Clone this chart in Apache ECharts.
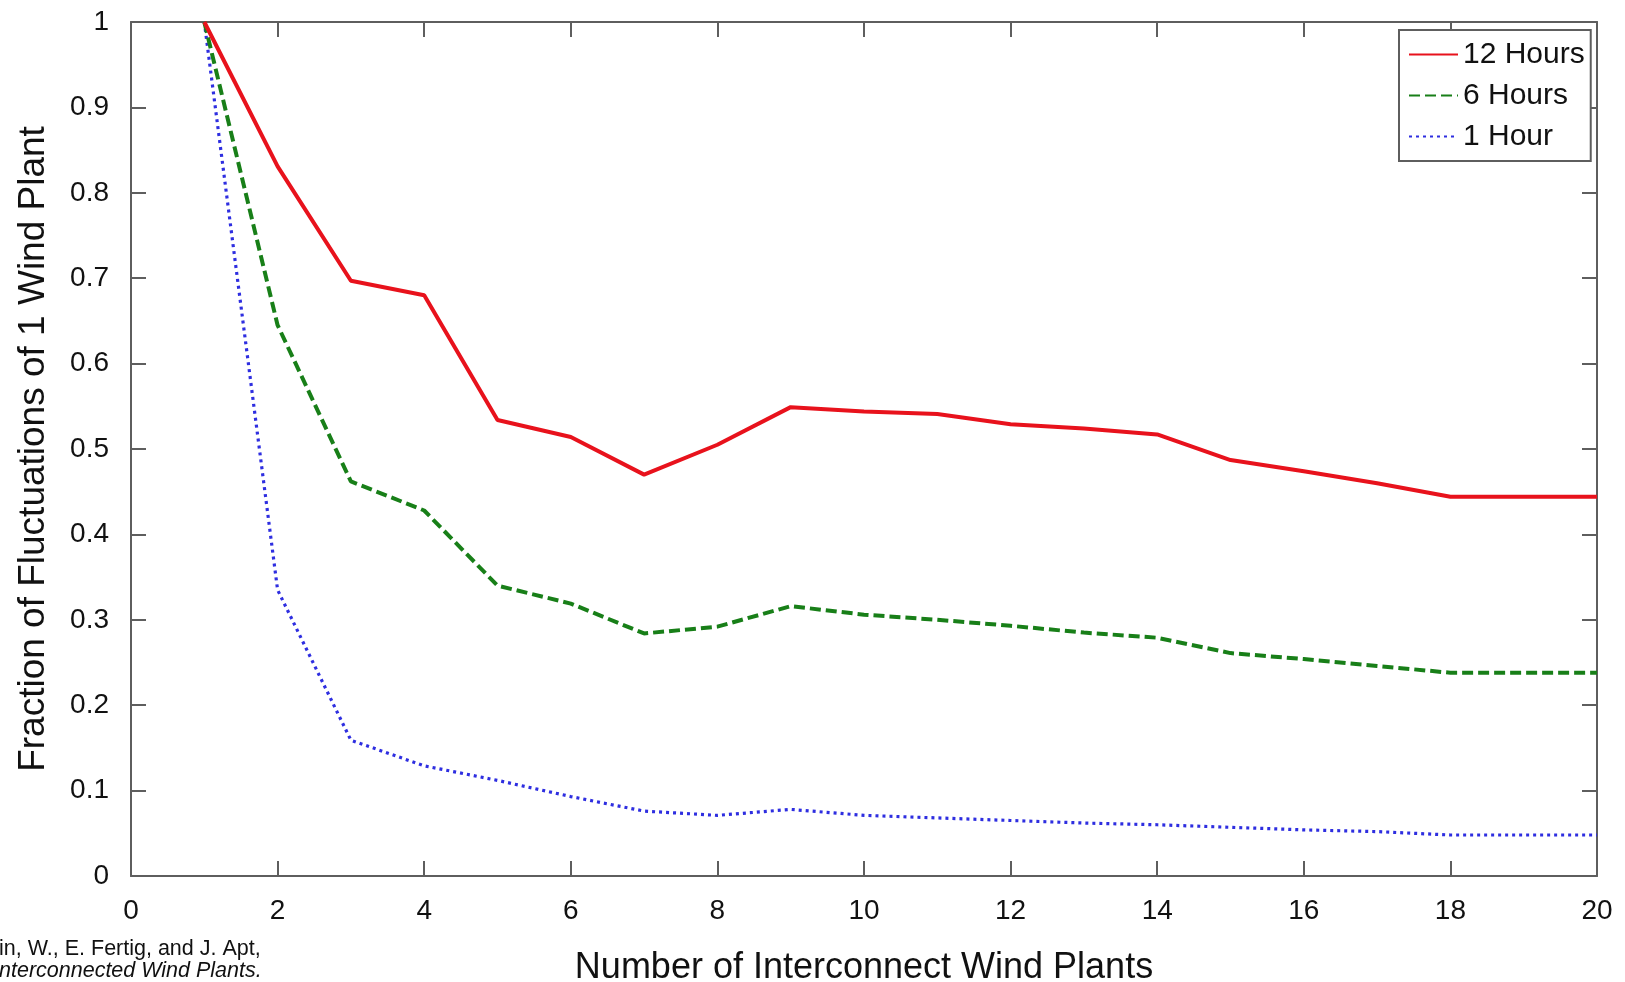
<!DOCTYPE html>
<html>
<head>
<meta charset="utf-8">
<title>Fraction of Fluctuations of 1 Wind Plant</title>
<script src="https://cdn.jsdelivr.net/npm/echarts@6/dist/echarts.min.js"></script>
<style>
  html, body { margin: 0; padding: 0; background: #ffffff; }
  #chart { width: 1625px; height: 982px; }
</style>
</head>
<body>
<div id="chart"></div>
<script>
// Number of interconnected wind plants
const plants = [1, 2, 3, 4, 5, 6, 7, 8, 9, 10, 11, 12, 13, 14, 15, 16, 17, 18, 19, 20];

// Fraction of the fluctuations of a single plant, per averaging window
const hours12 = [1.000, 0.831, 0.697, 0.680, 0.534, 0.514, 0.470, 0.505, 0.549, 0.544, 0.541, 0.529, 0.524, 0.517, 0.487, 0.474, 0.460, 0.444, 0.444, 0.444];
const hours6  = [1.000, 0.645, 0.462, 0.428, 0.340, 0.319, 0.284, 0.292, 0.316, 0.306, 0.300, 0.293, 0.285, 0.279, 0.261, 0.254, 0.246, 0.238, 0.238, 0.238];
const hour1   = [1.000, 0.335, 0.159, 0.129, 0.112, 0.093, 0.076, 0.071, 0.078, 0.071, 0.068, 0.065, 0.062, 0.060, 0.057, 0.054, 0.052, 0.048, 0.048, 0.048];

const seriesNames = ['12 Hours', '6 Hours', '1 Hour'];

// Axis ticks
const xTicks = [0, 2, 4, 6, 8, 10, 12, 14, 16, 18, 20];
const yTickLabels = ['0', '0.1', '0.2', '0.3', '0.4', '0.5', '0.6', '0.7', '0.8', '0.9', '1'];

const FONT = 'Liberation Sans, Arial, Helvetica, sans-serif';
const frameColor = '#5e5e5e';
const textColor = '#111111';

function pairs(ys) {
  return plants.map((x, i) => [x, ys[i]]);
}

// Box frame: every axis draws its line and inward ticks, never snapping to zero
function frameAxis(extra) {
  return Object.assign({
    type: 'value',
    axisLine: { show: true, onZero: false, lineStyle: { color: frameColor, width: 2 } },
    axisTick: { show: true, inside: true, length: 15, lineStyle: { color: frameColor, width: 2 } },
    splitLine: { show: false }
  }, extra);
}

const chart = echarts.init(document.getElementById('chart'), null, { renderer: 'canvas' });

chart.setOption({
  backgroundColor: '#ffffff',
  animation: false,
  grid: { left: 131, right: 28, top: 22, bottom: 106, containLabel: false, outerBoundsMode: 'none' },
  legend: {
    data: seriesNames,
    orient: 'vertical',
    left: 1399,
    top: 30,
    itemWidth: 49,
    itemHeight: 14,
    itemGap: 10,
    padding: [9, 6, 9, 9],
    backgroundColor: '#ffffff',
    borderColor: frameColor,
    borderWidth: 2,
    itemStyle: { opacity: 0 },
    textStyle: { fontFamily: FONT, fontSize: 30, color: textColor, lineHeight: 31 }
  },
  xAxis: [
    frameAxis({
      position: 'bottom',
      min: 0, max: 20, interval: 2,
      axisLabel: {
        show: true, margin: 21, fontFamily: FONT, fontSize: 28, color: textColor,
        formatter: v => (xTicks.indexOf(v) >= 0 ? String(v) : '')
      },
      name: 'Number of Interconnect Wind Plants',
      nameLocation: 'middle',
      nameGap: 74,
      nameTextStyle: { fontFamily: FONT, fontSize: 36, color: textColor }
    }),
    frameAxis({
      position: 'top',
      min: 0, max: 20, interval: 2,
      axisLabel: { show: false }
    })
  ],
  yAxis: [
    frameAxis({
      position: 'left',
      min: 0, max: 1, interval: 0.1,
      axisLabel: {
        show: true, margin: 22, fontFamily: FONT, fontSize: 28, color: textColor,
        formatter: v => yTickLabels[Math.round(v * 10)]
      },
      name: 'Fraction of Fluctuations of 1 Wind Plant',
      nameLocation: 'middle',
      nameGap: 79,
      nameRotate: 90,
      nameTextStyle: { fontFamily: FONT, fontSize: 37, color: textColor }
    }),
    frameAxis({
      position: 'right',
      min: 0, max: 1, interval: 0.1,
      axisLabel: { show: false }
    })
  ],
  series: [
    {
      name: seriesNames[0], type: 'line', xAxisIndex: 0, yAxisIndex: 0,
      data: pairs(hours12), symbol: 'none', z: 4,
      color: '#e8121c',
      lineStyle: { color: '#e8121c', width: 4, type: 'solid' }
    },
    {
      name: seriesNames[1], type: 'line', xAxisIndex: 0, yAxisIndex: 0,
      data: pairs(hours6), symbol: 'none', z: 3,
      color: '#187f18',
      lineStyle: { color: '#187f18', width: 4, type: [11, 5] }
    },
    {
      name: seriesNames[2], type: 'line', xAxisIndex: 0, yAxisIndex: 0,
      data: pairs(hour1), symbol: 'none', z: 2,
      color: '#2e2ee0',
      lineStyle: { color: '#2e2ee0', width: 3.2, type: [3, 4] }
    }
  ],
  graphic: [
    {
      type: 'text', left: -1, top: 938, silent: true,
      style: { text: 'in, W., E. Fertig, and J. Apt,', font: '21.5px ' + FONT, fill: '#111111' }
    },
    {
      type: 'text', left: -1, top: 960, silent: true,
      style: { text: 'nterconnected Wind Plants.', font: 'italic 21.5px ' + FONT, fill: '#111111' }
    }
  ]
});
</script>
</body>
</html>
